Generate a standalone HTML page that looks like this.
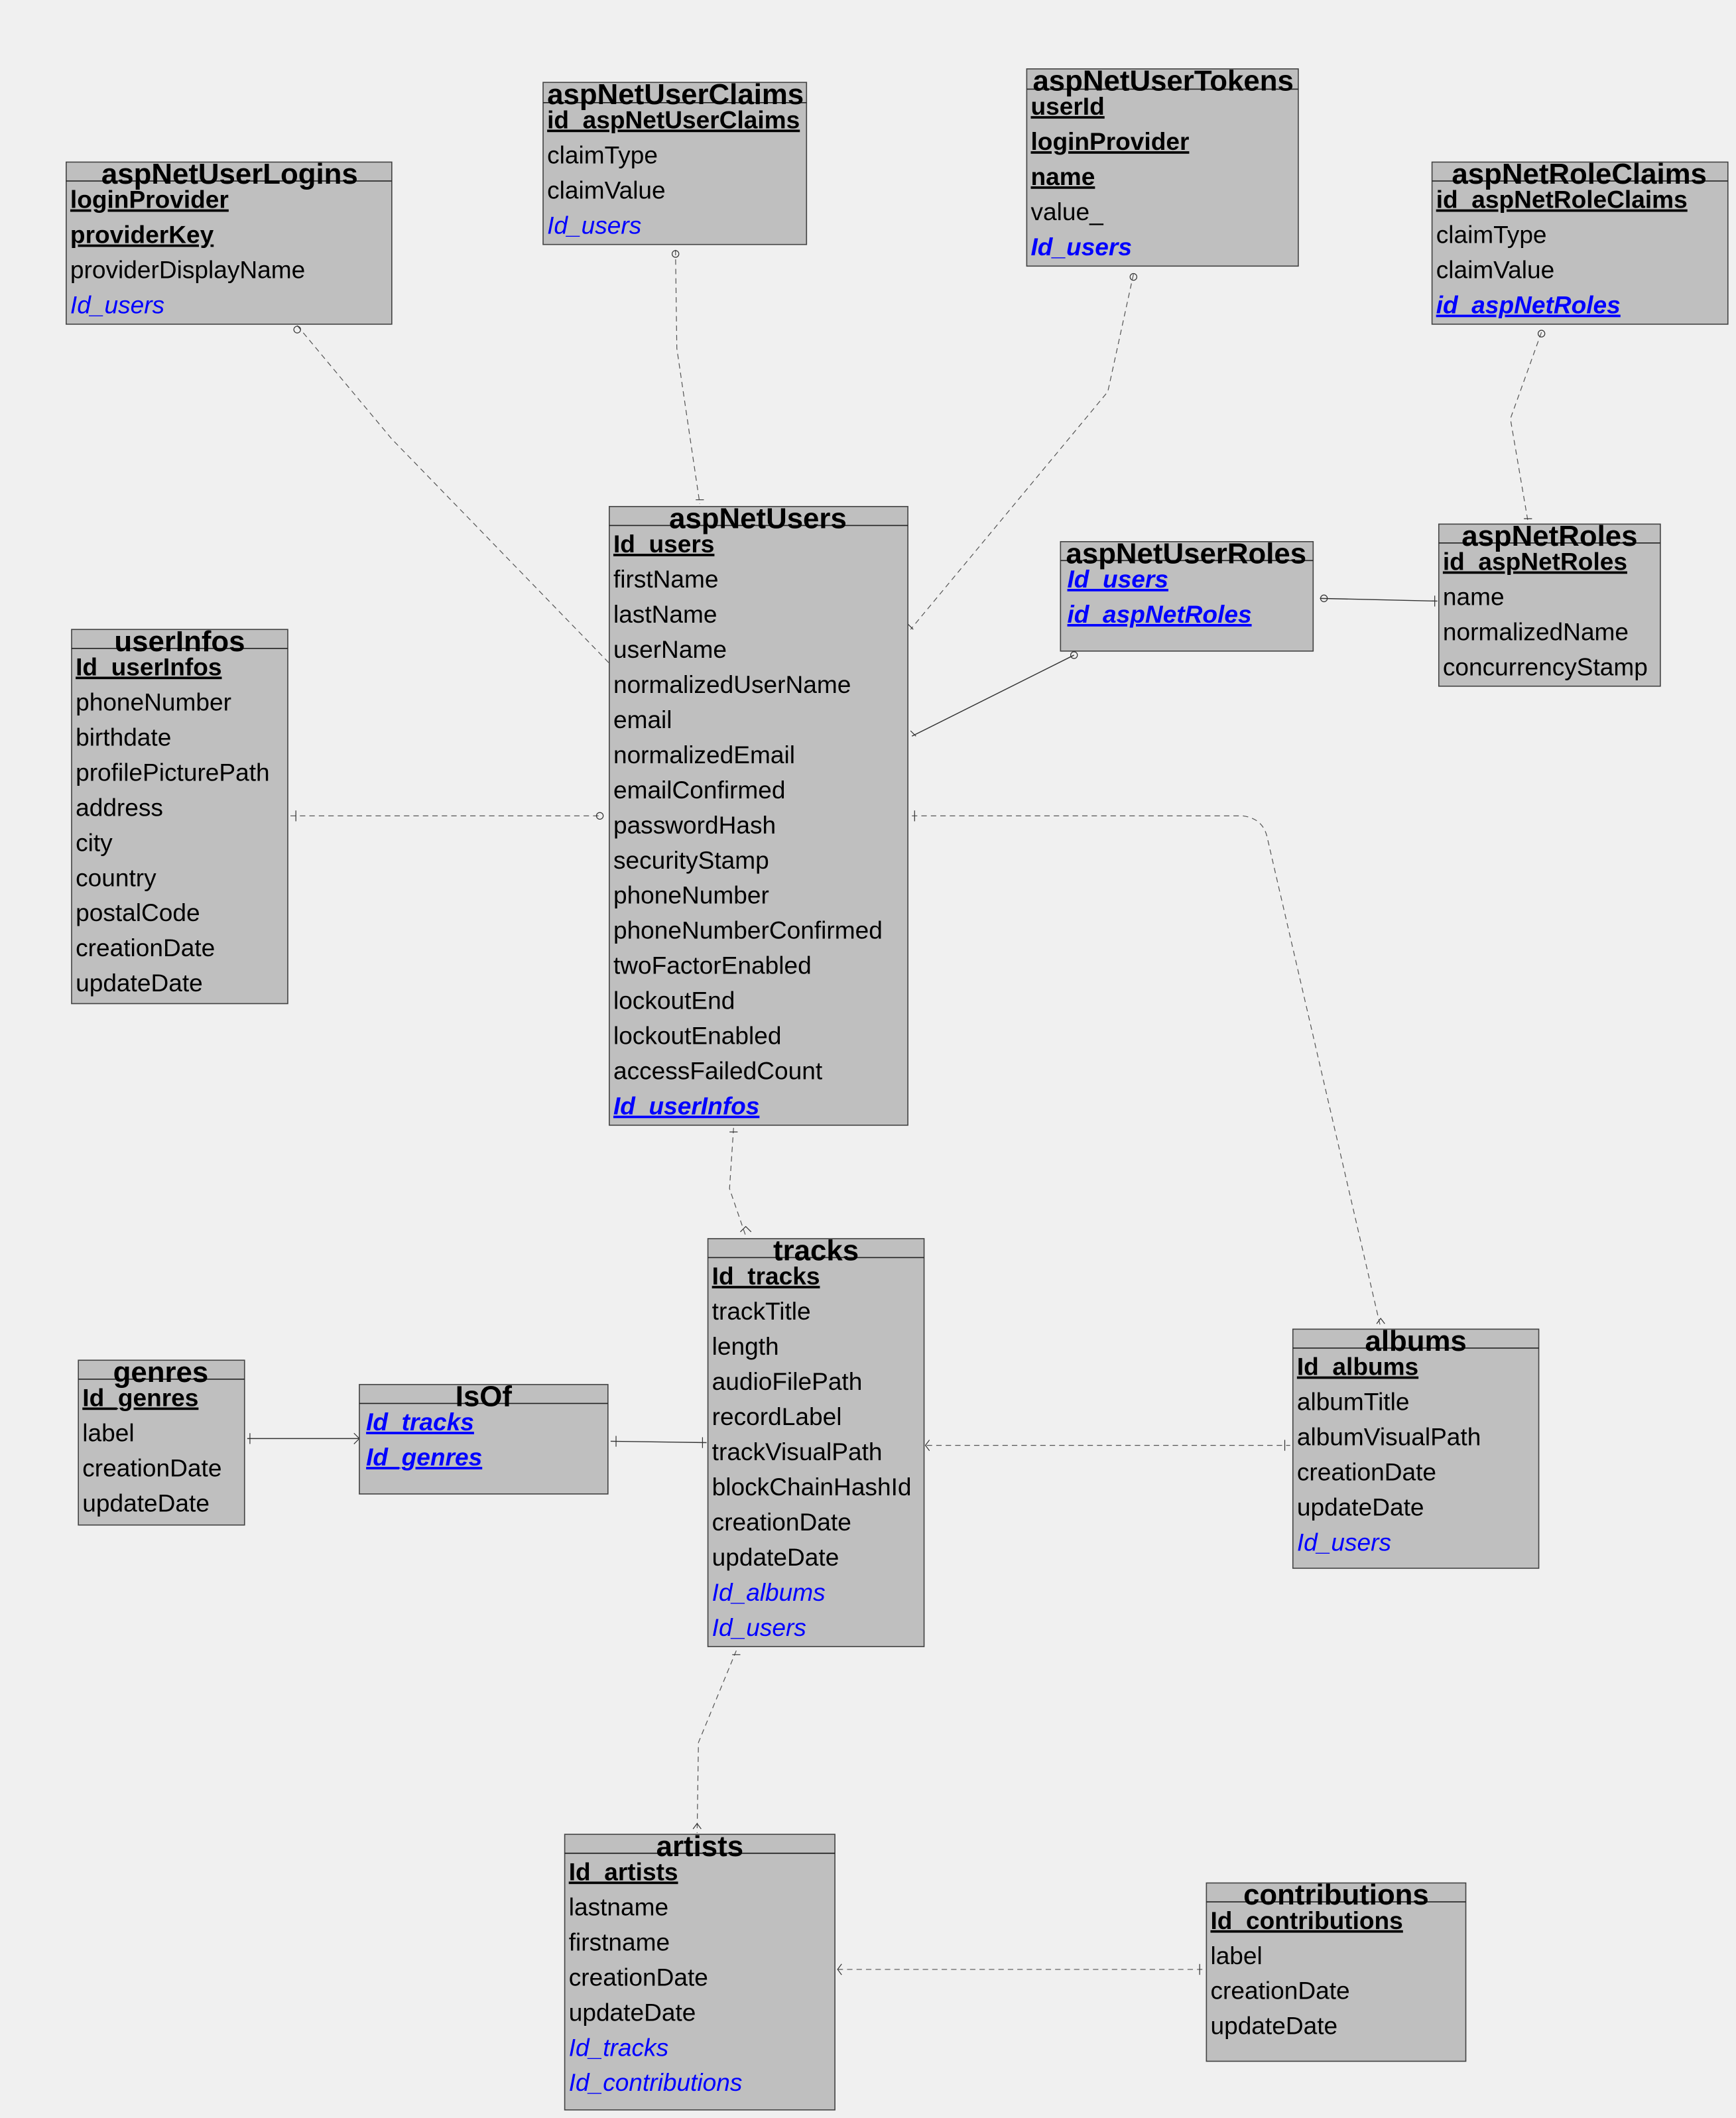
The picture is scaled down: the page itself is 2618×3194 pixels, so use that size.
<!DOCTYPE html>
<html><head><meta charset="utf-8"><style>
html,body{margin:0;padding:0;background:#f0f0f0;}
svg{display:block;}
text{font-family:"Liberation Sans",sans-serif;font-size:18.2px;fill:#000;}
.t{font-weight:bold;font-size:21.5px;text-anchor:middle;}
.k{font-weight:bold;text-decoration:underline;}
.f{fill:#0000ff;font-style:italic;}
.fk{fill:#0000ff;font-style:italic;font-weight:bold;text-decoration:underline;}
.b{fill:#bfbfbf;stroke:#444;stroke-width:0.8;}
.h{stroke:#222;stroke-width:0.8;}
.d{fill:none;stroke:#555;stroke-width:0.6;stroke-dasharray:4,3;}
.s{fill:none;stroke:#333;stroke-width:0.7;}
</style></head><body>
<svg width="2618" height="3194" viewBox="0 0 1285 1568" preserveAspectRatio="none" xmlns="http://www.w3.org/2000/svg">
<rect width="1285" height="1568" fill="#f0f0f0"/>
<path class="d" d="M220,241 L290,325 L451,491"/>
<path class="d" d="M500,185 L501,258 L518,373"/>
<path class="d" d="M839,203 L820,290 L674,466"/>
<path class="d" d="M1141,246 L1118,310 L1131,386"/>
<path class="s" d="M675,545 L795,485"/>
<path class="s" d="M977,443 L1064,445"/>
<path class="d" d="M215,604 L445,604"/>
<path class="d" d="M675,604 L920,604 Q935,606 938,620 L1022,983"/>
<path class="d" d="M543,835 L540,880 L552,915"/>
<path class="s" d="M183,1065 L266,1065"/>
<path class="s" d="M452,1067 L523,1068"/>
<path class="d" d="M686,1070 L955,1070"/>
<path class="d" d="M545,1222 L517,1290 L516,1357"/>
<path class="d" d="M620,1458 L892,1458"/>
<g fill="none" stroke="#333" stroke-width="0.6">
<circle cx="220" cy="244" r="2.5"/><circle cx="500" cy="188" r="2.5"/><circle cx="839" cy="205" r="2.5"/><circle cx="1141" cy="247" r="2.5"/><circle cx="795" cy="485" r="2.5"/><circle cx="980" cy="443" r="2.5"/><circle cx="444" cy="604" r="2.5"/>
<path d="M515,370 h6 M672,462 l4,4 M677,600 v8 M1128,384 h6 M1062,441 v8 M540,838 h6 M548,912 l4,-4 l4,4 M1019,980 l3,-4 l3,4 M219,600 v8 M185,1061 v8 M262,1061 l4,4 l-4,4 M456,1063 v8 M520,1064 v8 M688,1066 l-3,4 l3,4 M951,1066 v8 M542,1225 h6 M513,1354 l3,-4 l3,4 M623,1454 l-3,4 l3,4 M888,1454 v8 M674,541 l4,4"/>
</g>

<rect class="b" x="49" y="120" width="241" height="120"/><line class="h" x1="49" y1="134" x2="290" y2="134"/>
<text class="t" x="170" y="136">aspNetUserLogins</text>
<text class="k" x="52" y="154">loginProvider</text>
<text class="k" x="52" y="180">providerKey</text>
<text x="52" y="206">providerDisplayName</text>
<text class="f" x="52" y="232">Id_users</text>

<rect class="b" x="402" y="61" width="195" height="120"/><line class="h" x1="402" y1="76" x2="597" y2="76"/>
<text class="t" x="500" y="77">aspNetUserClaims</text>
<text class="k" x="405" y="95">id_aspNetUserClaims</text>
<text x="405" y="121">claimType</text>
<text x="405" y="147">claimValue</text>
<text class="f" x="405" y="173">Id_users</text>

<rect class="b" x="760" y="51" width="201" height="146"/><line class="h" x1="760" y1="66" x2="961" y2="66"/>
<text class="t" x="861" y="67">aspNetUserTokens</text>
<text class="k" x="763" y="85">userId</text>
<text class="k" x="763" y="111">loginProvider</text>
<text class="k" x="763" y="137">name</text>
<text x="763" y="163">value_</text>
<text class="f" x="763" y="189" font-weight="bold">Id_users</text>

<rect class="b" x="1060" y="120" width="219" height="120"/><line class="h" x1="1060" y1="134" x2="1279" y2="134"/>
<text class="t" x="1169" y="136">aspNetRoleClaims</text>
<text class="k" x="1063" y="154">id_aspNetRoleClaims</text>
<text x="1063" y="180">claimType</text>
<text x="1063" y="206">claimValue</text>
<text class="fk" x="1063" y="232">id_aspNetRoles</text>

<rect class="b" x="451" y="375" width="221" height="458"/><line class="h" x1="451" y1="389" x2="672" y2="389"/>
<text class="t" x="561" y="391">aspNetUsers</text>
<text class="k" x="454" y="409">Id_users</text>
<text x="454" y="435">firstName</text>
<text x="454" y="461">lastName</text>
<text x="454" y="487">userName</text>
<text x="454" y="513">normalizedUserName</text>
<text x="454" y="539">email</text>
<text x="454" y="565">normalizedEmail</text>
<text x="454" y="591">emailConfirmed</text>
<text x="454" y="617">passwordHash</text>
<text x="454" y="643">securityStamp</text>
<text x="454" y="669">phoneNumber</text>
<text x="454" y="695">phoneNumberConfirmed</text>
<text x="454" y="721">twoFactorEnabled</text>
<text x="454" y="747">lockoutEnd</text>
<text x="454" y="773">lockoutEnabled</text>
<text x="454" y="799">accessFailedCount</text>
<text class="fk" x="454" y="825">Id_userInfos</text>

<rect class="b" x="785" y="401" width="187" height="81"/><line class="h" x1="785" y1="415" x2="972" y2="415"/>
<text class="t" x="878" y="417">aspNetUserRoles</text>
<text class="fk" x="790" y="435">Id_users</text>
<text class="fk" x="790" y="461">id_aspNetRoles</text>

<rect class="b" x="1065" y="388" width="164" height="120"/><line class="h" x1="1065" y1="402" x2="1229" y2="402"/>
<text class="t" x="1147" y="404">aspNetRoles</text>
<text class="k" x="1068" y="422">id_aspNetRoles</text>
<text x="1068" y="448">name</text>
<text x="1068" y="474">normalizedName</text>
<text x="1068" y="500">concurrencyStamp</text>

<rect class="b" x="53" y="466" width="160" height="277"/><line class="h" x1="53" y1="480" x2="213" y2="480"/>
<text class="t" x="133" y="482">userInfos</text>
<text class="k" x="56" y="500">Id_userInfos</text>
<text x="56" y="526">phoneNumber</text>
<text x="56" y="552">birthdate</text>
<text x="56" y="578">profilePicturePath</text>
<text x="56" y="604">address</text>
<text x="56" y="630">city</text>
<text x="56" y="656">country</text>
<text x="56" y="682">postalCode</text>
<text x="56" y="708">creationDate</text>
<text x="56" y="734">updateDate</text>

<rect class="b" x="524" y="917" width="160" height="302"/><line class="h" x1="524" y1="931" x2="684" y2="931"/>
<text class="t" x="604" y="933">tracks</text>
<text class="k" x="527" y="951">Id_tracks</text>
<text x="527" y="977">trackTitle</text>
<text x="527" y="1003">length</text>
<text x="527" y="1029">audioFilePath</text>
<text x="527" y="1055">recordLabel</text>
<text x="527" y="1081">trackVisualPath</text>
<text x="527" y="1107">blockChainHashId</text>
<text x="527" y="1133">creationDate</text>
<text x="527" y="1159">updateDate</text>
<text class="f" x="527" y="1185">Id_albums</text>
<text class="f" x="527" y="1211">Id_users</text>

<rect class="b" x="957" y="984" width="182" height="177"/><line class="h" x1="957" y1="998" x2="1139" y2="998"/>
<text class="t" x="1048" y="1000">albums</text>
<text class="k" x="960" y="1018">Id_albums</text>
<text x="960" y="1044">albumTitle</text>
<text x="960" y="1070">albumVisualPath</text>
<text x="960" y="1096">creationDate</text>
<text x="960" y="1122">updateDate</text>
<text class="f" x="960" y="1148">Id_users</text>

<rect class="b" x="58" y="1007" width="123" height="122"/><line class="h" x1="58" y1="1021" x2="181" y2="1021"/>
<text class="t" x="119" y="1023">genres</text>
<text class="k" x="61" y="1041">Id_genres</text>
<text x="61" y="1067">label</text>
<text x="61" y="1093">creationDate</text>
<text x="61" y="1119">updateDate</text>

<rect class="b" x="266" y="1025" width="184" height="81"/><line class="h" x1="266" y1="1039" x2="450" y2="1039"/>
<text class="t" x="358" y="1041">IsOf</text>
<text class="fk" x="271" y="1059">Id_tracks</text>
<text class="fk" x="271" y="1085">Id_genres</text>

<rect class="b" x="418" y="1358" width="200" height="204"/><line class="h" x1="418" y1="1372" x2="618" y2="1372"/>
<text class="t" x="518" y="1374">artists</text>
<text class="k" x="421" y="1392">Id_artists</text>
<text x="421" y="1418">lastname</text>
<text x="421" y="1444">firstname</text>
<text x="421" y="1470">creationDate</text>
<text x="421" y="1496">updateDate</text>
<text class="f" x="421" y="1522">Id_tracks</text>
<text class="f" x="421" y="1548">Id_contributions</text>

<rect class="b" x="893" y="1394" width="192" height="132"/><line class="h" x1="893" y1="1408" x2="1085" y2="1408"/>
<text class="t" x="989" y="1410">contributions</text>
<text class="k" x="896" y="1428">Id_contributions</text>
<text x="896" y="1454">label</text>
<text x="896" y="1480">creationDate</text>
<text x="896" y="1506">updateDate</text>
</svg>
</body></html>
